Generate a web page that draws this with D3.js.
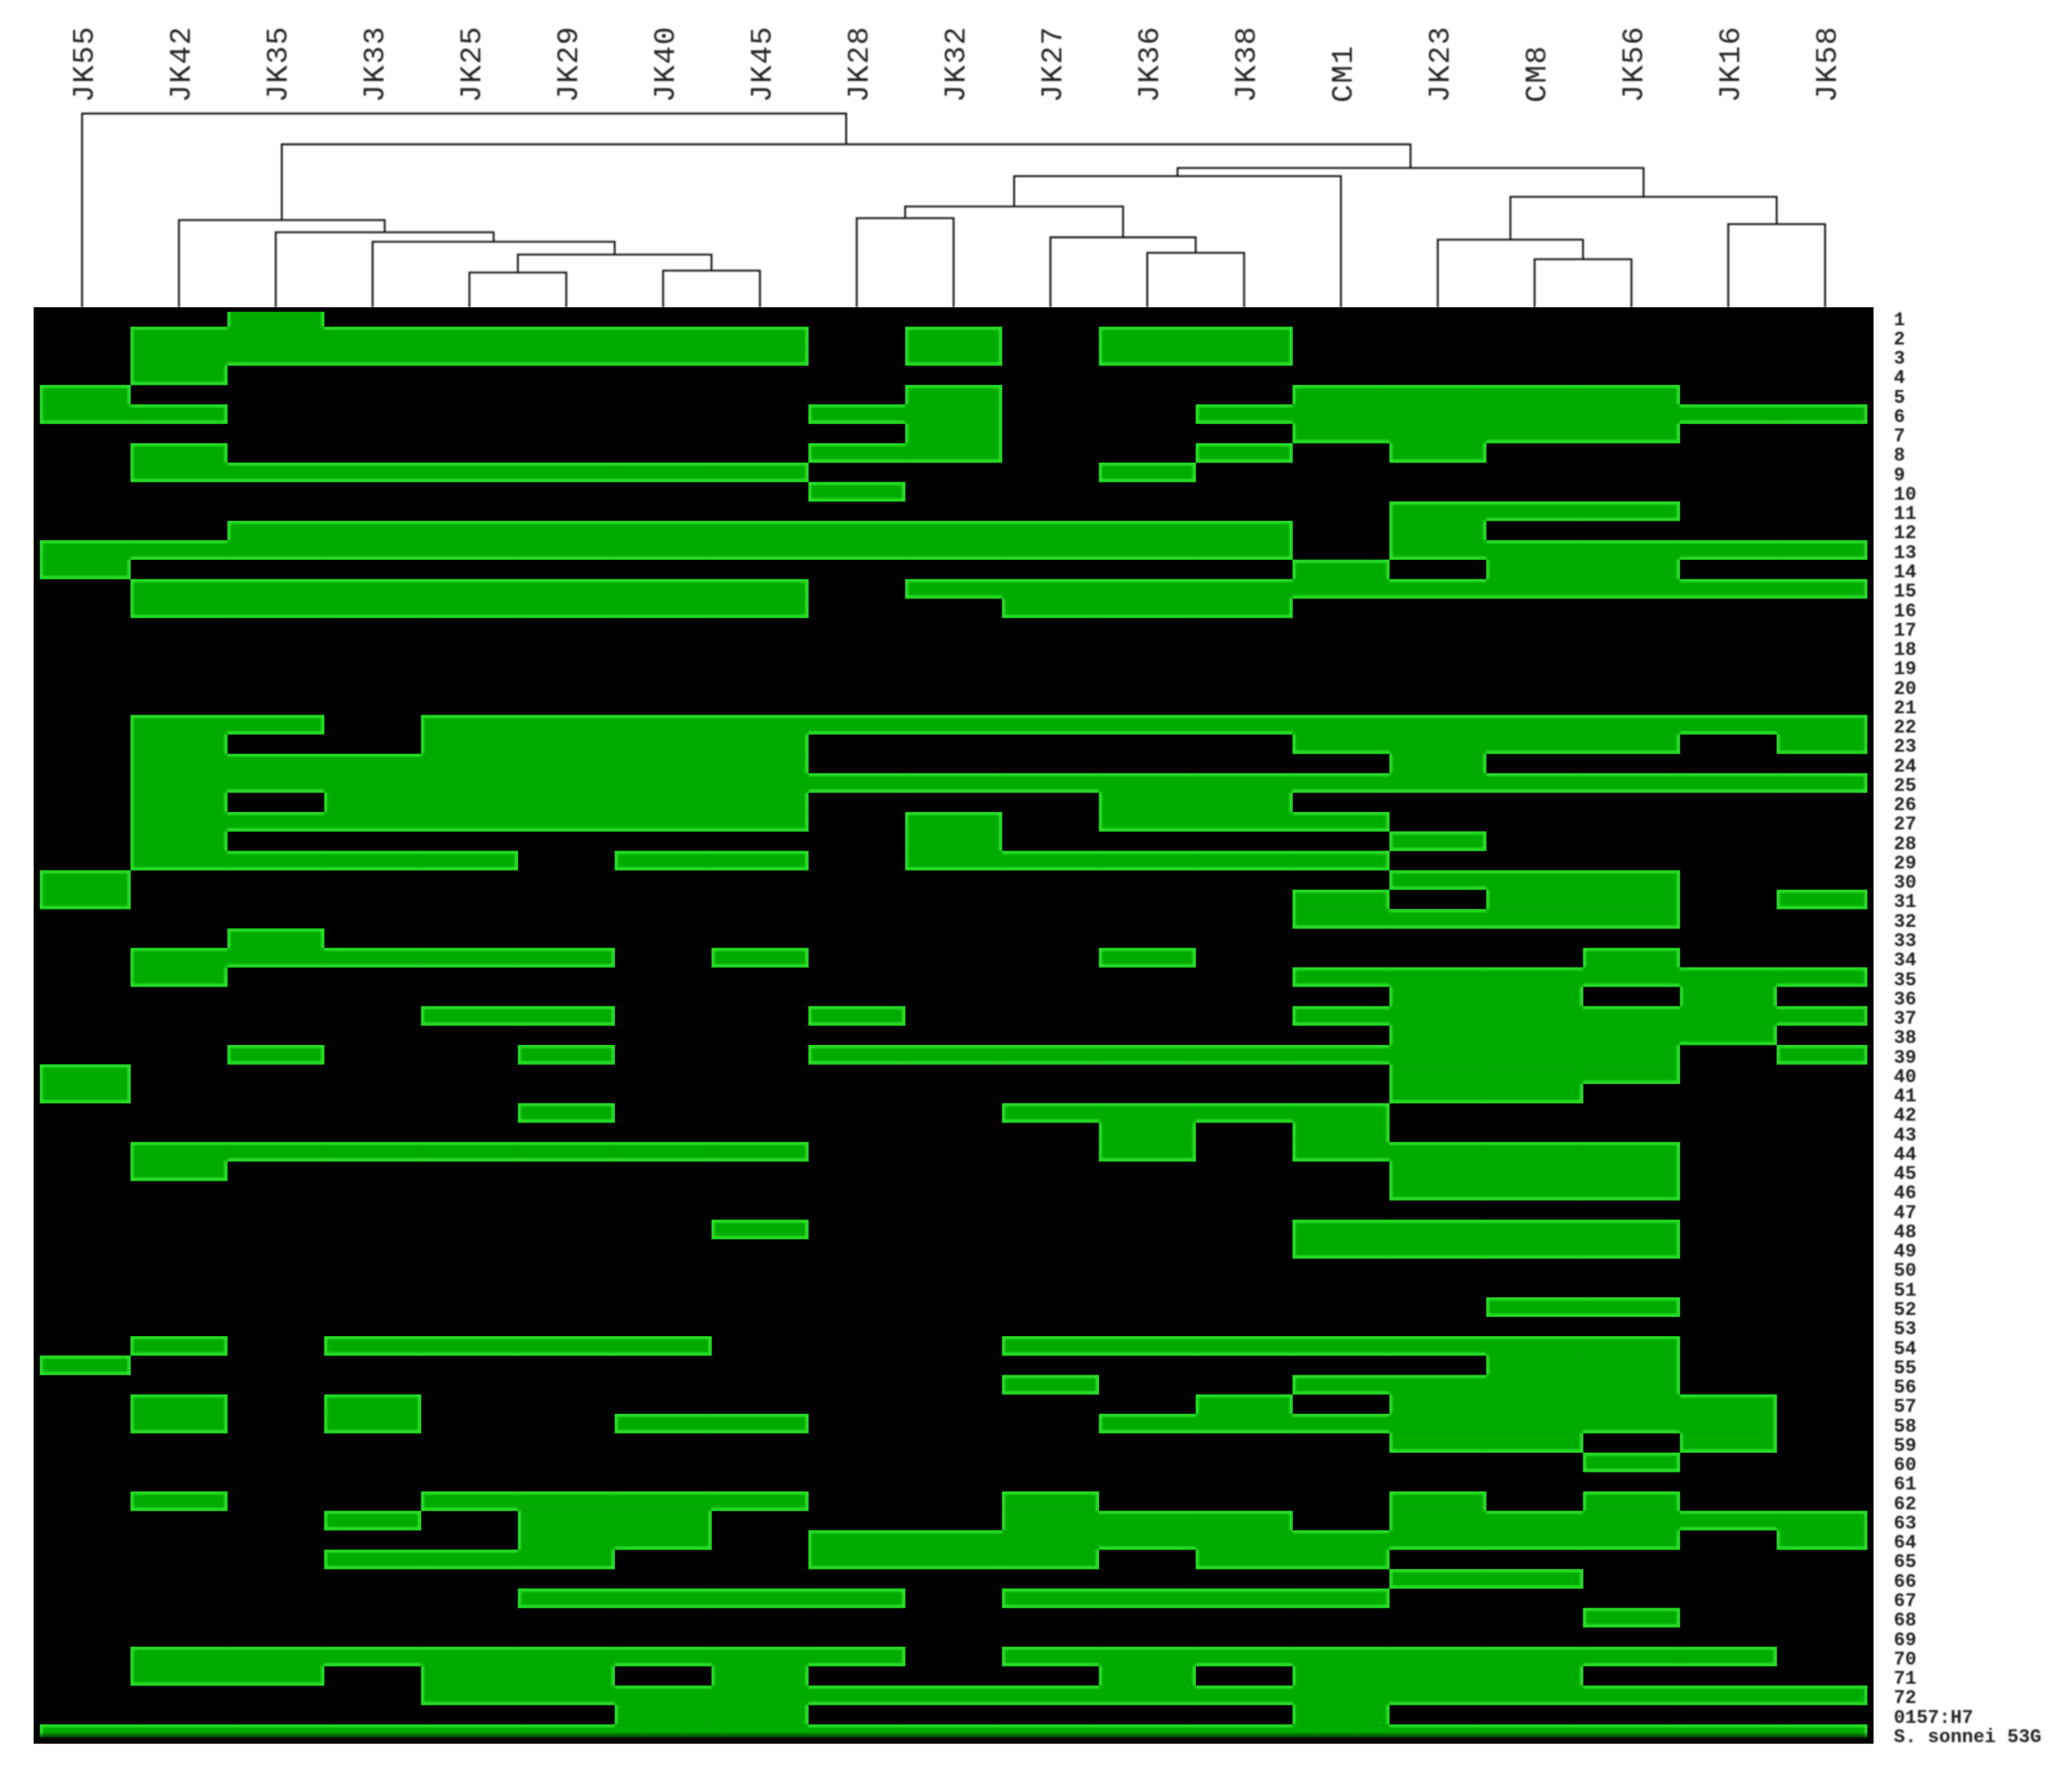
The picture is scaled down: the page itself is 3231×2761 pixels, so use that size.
<!DOCTYPE html>
<html>
<head>
<meta charset="utf-8">
<title>Dendrogram and heat map</title>
<script src="https://cdn.jsdelivr.net/npm/d3@7"></script>
<style>
    html, body { margin: 0; padding: 0; background: #fff; }
    svg { display: block; }
    text { font-family: "Liberation Mono", "DejaVu Sans Mono", monospace; fill: #222; }
</style>
</head>
<body>
<div id="chart"></div>
<script>
(function(){
    'use strict'

    var colLabels = ['JK55','JK42','JK35','JK33','JK25','JK29','JK40','JK45','JK28','JK32',
                     'JK27','JK36','JK38','CM1','JK23','CM8','JK56','JK16','JK58'];

    var rowLabels = d3.range(1, 73).map(String).concat(['0157:H7', 'S. sonnei 53G']);

    /*one string per row, one character per column, 1 = gene present*/
    var presence = [
        '0010000000000000000', '0111111101011000000', '0111111101011000000', '0100000000000000000',
        '1000000001000111100', '1100000011001111111', '0000000001000111100', '0100000011001010000',
        '0111111100010000000', '0000000010000000000', '0000000000000011100', '0011111111111010000',
        '1111111111111011111', '1000000000000101100', '0111111101111111111', '0111111100111000000',
        '0000000000000000000', '0000000000000000000', '0000000000000000000', '0000000000000000000',
        '0000000000000000000', '0110111111111111111', '0100111100000111101', '0111111100000010000',
        '0111111111111111111', '0101111100011000000', '0111111101011100000', '0100000001000010000',
        '0111101101111100000', '1000000000000011100', '1000000000000101101', '0000000000000111100',
        '0010000000000000000', '0111110100010000100', '0100000000000111111', '0000000000000011010',
        '0000110010000111111', '0000000000000011110', '0010010011111111101', '1000000000000011100',
        '1000000000000011000', '0000010000111100000', '0000000000010100000', '0111111100010111100',
        '0100000000000011100', '0000000000000011100', '0000000000000000000', '0000000100000111100',
        '0000000000000111100', '0000000000000000000', '0000000000000000000', '0000000000000001100',
        '0000000000000000000', '0101111000111111100', '1000000000000001100', '0000000000100111100',
        '0101000000001011110', '0101001100011111110', '0000000000000011010', '0000000000000000100',
        '0000000000000000000', '0100111100100010100', '0001011000111011111', '0000011011111111101',
        '0001110011101100000', '0000000000000011000', '0000011110111100000', '0000000000000000100',
        '0000000000000000000', '0111111110111111110', '0110110100010111000', '0000111111111111111',
        '0000001100000100000', '1111111111111111111'
    ];

    /*children are column names or the index of an earlier merge, last value is the distance*/
    var merges = [
        ['JK25', 'JK29', 0.179],    //0
        ['JK40', 'JK45', 0.189],    //1
        [0, 1, 0.272],              //2
        ['JK33', 2, 0.338],         //3
        ['JK35', 3, 0.387],         //4
        ['JK42', 4, 0.450],         //5
        ['JK28', 'JK32', 0.460],    //6
        ['JK36', 'JK38', 0.281],    //7
        ['JK27', 7, 0.361],         //8
        [6, 8, 0.520],              //9
        [9, 'CM1', 0.677],          //10
        ['CM8', 'JK56', 0.248],     //11
        ['JK23', 11, 0.349],        //12
        ['JK16', 'JK58', 0.429],    //13
        [12, 13, 0.570],            //14
        [10, 14, 0.719],            //15
        [5, 15, 0.841],             //16
        ['JK55', 16, 1.000]         //17
    ];

    var width = 3231
    ,   height = 2761
    ,   plot = {left: 52.5, right: 2921.5, top: 479, bottom: 2718.5}
    ,   inner = {left: 62, right: 2912, top: 486, bottom: 2709}
    ,   cellColor = '#00ab00'
    ,   edgeColor = '#2fe22f';

    var x = d3.scaleBand().domain(colLabels).range([plot.left, plot.right]);
    var y = d3.scaleBand().domain(rowLabels).range([plot.top, plot.bottom]);
    var dist = d3.scaleLinear().domain([0, 1]).range([plot.top, 177]);

    var svg = d3.select('#chart').append('svg')
        .attr('width', width)
        .attr('height', height)
        .attr('viewBox', [0, 0, width, height]);

    var defs = svg.append('defs');

    defs.append('filter').attr('id', 'soft')
        .append('feGaussianBlur').attr('stdDeviation', 0.8);
    defs.append('filter').attr('id', 'softEdge')
        .append('feGaussianBlur').attr('stdDeviation', 1.8);

    defs.append('clipPath').attr('id', 'innerClip')
        .append('rect')
        .attr('x', inner.left)
        .attr('y', inner.top)
        .attr('width', inner.right - inner.left)
        .attr('height', inner.bottom - inner.top);

    var shade = defs.append('linearGradient').attr('id', 'bottomShade')
        .attr('x1', 0).attr('x2', 0).attr('y1', 0).attr('y2', 1);
    shade.append('stop').attr('offset', '0%').attr('stop-color', '#000').attr('stop-opacity', 0);
    shade.append('stop').attr('offset', '100%').attr('stop-color', '#000').attr('stop-opacity', 0.7);

    /*black panel behind the cells*/
    svg.append('rect')
        .attr('x', plot.left)
        .attr('y', plot.top)
        .attr('width', plot.right - plot.left)
        .attr('height', plot.bottom - plot.top)
        .attr('fill', '#000');

    var isOn = function(r, c){
        return r >= 0 && r < presence.length && c >= 0 && c < colLabels.length && presence[r][c] === '1';
    };

    var cells = [];
    presence.forEach(function(row, r){
        colLabels.forEach(function(col, c){
            if(isOn(r, c)) cells.push({r: r, c: c, row: rowLabels[r], col: col});
        });
    });

    /*rims stay inside the green, so the same cells are used as a clip*/
    defs.append('clipPath').attr('id', 'cellClip')
        .selectAll('rect')
        .data(cells)
        .enter()
        .append('rect')
        .attr('x', function(d){ return x(d.col); })
        .attr('y', function(d){ return y(d.row); })
        .attr('width', x.bandwidth() + 0.5)
        .attr('height', y.bandwidth() + 0.5);

    var heat = svg.append('g').attr('clip-path', 'url(#innerClip)');

    heat.selectAll('rect.cell')
        .data(cells)
        .enter()
        .append('rect')
        .attr('class', 'cell')
        .attr('x', function(d){ return x(d.col); })
        .attr('y', function(d){ return y(d.row); })
        .attr('width', x.bandwidth() + 0.5)
        .attr('height', y.bandwidth() + 0.5)
        .attr('fill', cellColor);

    /*the picture has a bright rim where green meets black, collect those sides*/
    var inset = 2.5;
    var edges = [];
    cells.forEach(function(d){
        var x0 = Math.max(x(d.col), inner.left) + inset
        ,   x1 = Math.min(x(d.col) + x.bandwidth(), inner.right) - inset
        ,   y0 = Math.max(y(d.row), inner.top) + inset
        ,   y1 = Math.min(y(d.row) + y.bandwidth(), inner.bottom) - inset;

        if(!isOn(d.r - 1, d.c) && d.r > 0) edges.push([x0 - inset, y0, x1 + inset, y0]);
        if(!isOn(d.r + 1, d.c) && d.r < presence.length - 1) edges.push([x0 - inset, y1, x1 + inset, y1]);
        if(!isOn(d.r, d.c - 1)) edges.push([x0, y0 - inset, x0, y1 + inset]);
        if(!isOn(d.r, d.c + 1)) edges.push([x1, y0 - inset, x1, y1 + inset]);
    });

    heat.append('g')
        .attr('clip-path', 'url(#cellClip)')
        .append('g')
        .attr('filter', 'url(#softEdge)')
        .selectAll('line')
        .data(edges)
        .enter()
        .append('line')
        .attr('x1', function(d){ return d[0]; })
        .attr('y1', function(d){ return d[1]; })
        .attr('x2', function(d){ return d[2]; })
        .attr('y2', function(d){ return d[3]; })
        .attr('stroke', edgeColor)
        .attr('stroke-width', 4.5);

    /*last row fades to black at the bottom*/
    heat.append('rect')
        .attr('x', inner.left)
        .attr('y', y(rowLabels[rowLabels.length - 1]) + 12)
        .attr('width', inner.right - inner.left)
        .attr('height', inner.bottom - y(rowLabels[rowLabels.length - 1]) - 12)
        .attr('fill', 'url(#bottomShade)');

    /*dendrogram*/
    var nodeX = function(ref, placed){
        return typeof ref === 'number' ? placed[ref] : x(ref) + x.bandwidth() / 2;
    };
    var nodeY = function(ref){
        return typeof ref === 'number' ? dist(merges[ref][2]) : dist(0);
    };

    var placed = [];
    var links = merges.map(function(m, i){
        var xa = nodeX(m[0], placed)
        ,   xb = nodeX(m[1], placed)
        ,   h = dist(m[2]);
        placed[i] = (xa + xb) / 2;
        return [[xa, nodeY(m[0])], [xa, h], [xb, h], [xb, nodeY(m[1])]];
    });

    svg.append('g')
        .attr('filter', 'url(#soft)')
        .selectAll('path')
        .data(links)
        .enter()
        .append('path')
        .attr('d', d3.line())
        .attr('fill', 'none')
        .attr('stroke', '#111')
        .attr('stroke-width', 2.8);

    /*column labels read bottom to top above the tree*/
    var colAxis = svg.append('g')
        .attr('transform', 'translate(0,160)')
        .attr('filter', 'url(#soft)')
        .call(d3.axisTop(x).tickSize(0).tickPadding(0));

    colAxis.select('.domain').remove();
    colAxis.selectAll('text')
        .attr('transform', 'rotate(-90)')
        .attr('x', 0)
        .attr('y', 0)
        .attr('dy', '0.36em')
        .attr('text-anchor', 'start')
        .style('font-size', '47px')
        .style('letter-spacing', '1.8px');

    var rowAxis = svg.append('g')
        .attr('transform', 'translate(' + plot.right + ',3)')
        .attr('filter', 'url(#soft)')
        .call(d3.axisRight(y).tickSize(0).tickPadding(31.5));

    rowAxis.select('.domain').remove();
    rowAxis.selectAll('text')
        .attr('text-anchor', 'start')
        .style('font-size', '29.5px')
        .style('font-weight', 'bold');

})()
</script>
</body>
</html>
